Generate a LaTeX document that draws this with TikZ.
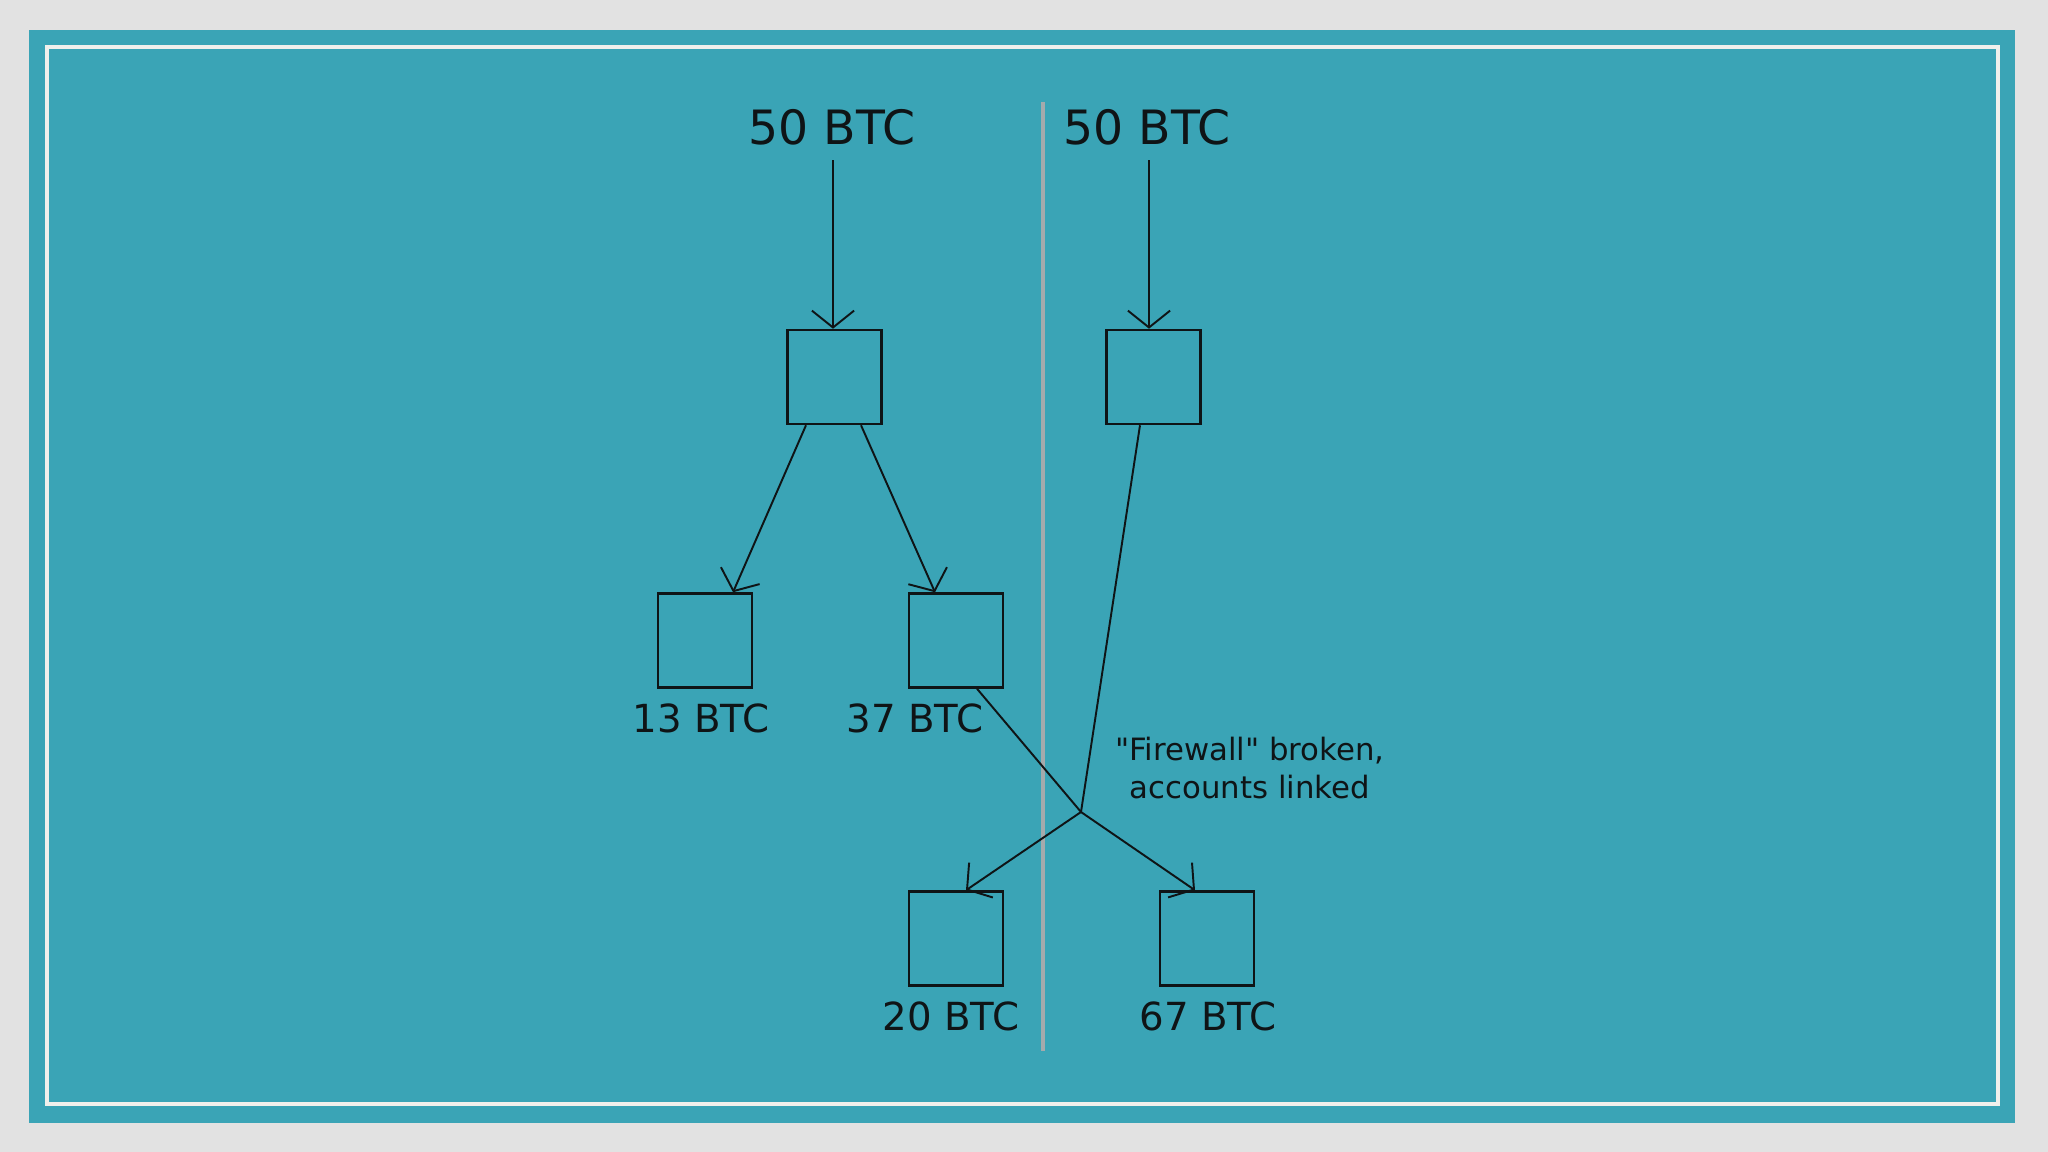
\documentclass[tikz,border=0pt]{standalone}
\usepackage{fontspec}
\setmainfont{DejaVu Sans}
\newfontfamily\notefont{DejaVu Sans}[Ligatures=TeXOff]
\usetikzlibrary{arrows.meta}
\definecolor{paper}{RGB}{226,226,226}
\definecolor{teal}{RGB}{58,164,182}
\definecolor{frameline}{RGB}{240,240,236}
\definecolor{divider}{RGB}{165,170,172}
\definecolor{ink}{RGB}{15,20,22}
\tikzset{
  box/.style={draw=ink, line width=0.7pt, minimum width=0.94cm, minimum height=0.94cm, inner sep=0pt},
  biglabel/.style={text=ink, font=\fontsize{13.45}{16}\selectfont, anchor=base, inner sep=0.14cm},
  amount/.style={text=ink, font=\fontsize{11.0}{14}\selectfont, anchor=base, inner sep=0pt},
  note/.style={text=ink, font=\notefont\fontsize{8.75}{10.8}\selectfont, align=center, inner sep=0pt},
  flow/.style={draw=ink, line width=0.55pt, -{Straight Barb[length=4.8pt,width=12pt,line width=0.55pt]}},
  link/.style={draw=ink, line width=0.55pt}
}
\begin{document}
\begin{tikzpicture}[x=0.01cm, y=-0.01cm]
\fill[paper] (0,0) rectangle (2048,1152);
\useasboundingbox (0,0) rectangle (2048,1152);
\fill[teal] (29,30) rectangle (2015,1123);
\draw[frameline, line width=1pt] (47,47) rectangle (1998,1104);
\draw[divider, line width=1.1pt] (1043,102) -- (1043,1051);

% labels
\node[biglabel] (l50a) at (832,145) {50 BTC};
\node[biglabel] (l50b) at (1147,145) {50 BTC};

% boxes
\node[box] (ta) at (834.5,377) {};
\node[box] (tb) at (1153.5,377) {};
\node[box] (b13) at (705,640.5) {};
\node[box] (b37) at (956,640.5) {};
\node[box] (b20) at (956,938.5) {};
\node[box] (b67) at (1207,938.5) {};

\node[amount] (t13) at (701,732) {13 BTC};
\node[amount] (t37) at (915,732) {37 BTC};
\node[amount] (t20) at (951,1030) {20 BTC};
\node[amount] (t67) at (1208,1030) {67 BTC};

\node[note] (fw) at (1250,768) {"Firewall" broken,\\accounts linked};

\coordinate (j) at (1081,812);

% connectors
\draw[flow] (l50a.south -| ta.north) ++(-0.015cm,0) -- ([xshift=-0.015cm]ta.north);
\draw[flow] (l50b.south -| tb.north) ++(-0.045cm,0) -- ([xshift=-0.045cm]tb.north);
\draw[flow] ([xshift=-0.285cm]ta.south) -- ([xshift=0.28cm]b13.north);
\draw[flow] ([xshift=0.265cm]ta.south) -- ([xshift=-0.21cm]b37.north);
\draw[link] ([xshift=-0.135cm]tb.south) -- (j);
\draw[link] ([xshift=0.21cm]b37.south) -- (j);
\draw[flow] (j) -- ([xshift=0.1cm]b20.north);
\draw[flow] (j) -- ([xshift=-0.12cm]b67.north);
\end{tikzpicture}
\end{document}
